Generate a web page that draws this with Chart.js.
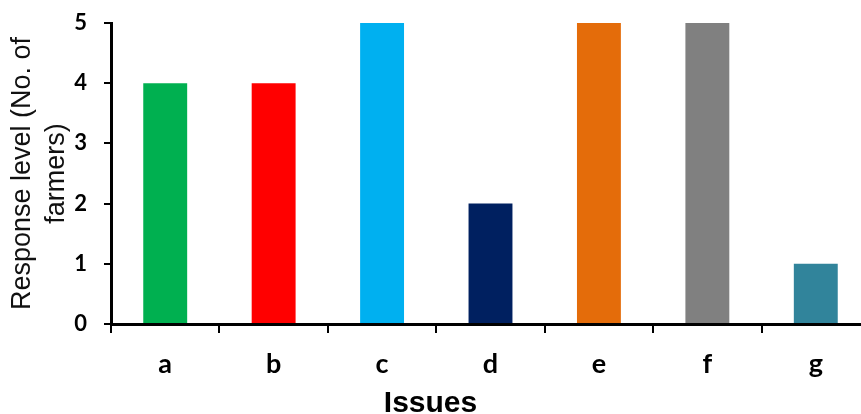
<!DOCTYPE html>
<html>
<head>
<meta charset="utf-8">
<script src="https://cdn.jsdelivr.net/npm/chart.js@4"></script>
<style>
  html, body { margin: 0; padding: 0; background: #fff; overflow: hidden; }
  #wrap { position: relative; width: 870px; height: 414px; }
</style>
</head>
<body>
<div id="wrap"><canvas id="chart"></canvas></div>
<script>
// Issues raised and number of farmers reporting each
const issues = ['a', 'b', 'c', 'd', 'e', 'f', 'g'];
const responses = [4, 4, 5, 2, 5, 5, 1];
const barColors = ['#00B050', '#FF0000', '#00B0F0', '#002060', '#E46C0A', '#808080', '#31849B'];
const yTicks = [0, 1, 2, 3, 4, 5];
const xTitle = 'Issues';

// Axis title centred under the whole visible figure
const figureTitle = {
  id: 'figureTitle',
  afterDraw(chart) {
    const ctx = chart.ctx;
    ctx.save();
    ctx.font = 'bold 30px "Liberation Sans", Arial, sans-serif';
    ctx.fillStyle = '#000';
    ctx.textAlign = 'center';
    ctx.textBaseline = 'alphabetic';
    const visibleWidth = Math.min(window.innerWidth, chart.width);
    ctx.fillText(xTitle, visibleWidth / 2, chart.height - 2);
    ctx.restore();
  }
};

new Chart(document.getElementById('chart'), {
  type: 'bar',
  data: {
    labels: issues,
    datasets: [{
      data: responses,
      backgroundColor: barColors,
      borderWidth: 0,
      categoryPercentage: 1,
      barPercentage: 0.405
    }]
  },
  plugins: [figureTitle],
  options: {
    responsive: true,
    maintainAspectRatio: false,
    animation: false,
    layout: { padding: { top: 23, right: 0, left: 0, bottom: 0 } },
    plugins: { legend: { display: false }, tooltip: { enabled: false } },
    scales: {
      x: {
        offset: true,
        grid: {
          offset: true,
          drawOnChartArea: false,
          drawTicks: true,
          tickLength: 9,
          color: '#000',
          lineWidth: 2
        },
        border: { color: '#000', width: 3 },
        ticks: {
          color: '#000',
          padding: 15,
          font: { family: 'Lato', weight: 'bold', size: 27 }
        },
        afterFit(scale) {
          scale.height = 90;
          scale.paddingLeft = 0;
          scale.paddingRight = 0;
        }
      },
      y: {
        min: 0,
        max: 5,
        afterBuildTicks(scale) { scale.ticks = yTicks.map(v => ({ value: v })); },
        grid: {
          drawOnChartArea: false,
          drawTicks: true,
          tickLength: 7,
          color: '#000',
          lineWidth: 2
        },
        border: { color: '#000', width: 3 },
        ticks: {
          color: '#000',
          padding: 17,
          font: { family: 'Lato', weight: 'bold', size: 22 }
        },
        title: {
          display: true,
          text: ['Response level (No. of', 'farmers)'],
          color: '#111',
          padding: { top: 6, bottom: 0 },
          font: { family: '"Liberation Sans", Arial, sans-serif', size: 27, lineHeight: 1.24 }
        },
        afterFit(scale) {
          scale.width = 111;
          scale.paddingTop = 0;
          scale.paddingBottom = 0;
        }
      }
    }
  }
});
</script>
</body>
</html>
